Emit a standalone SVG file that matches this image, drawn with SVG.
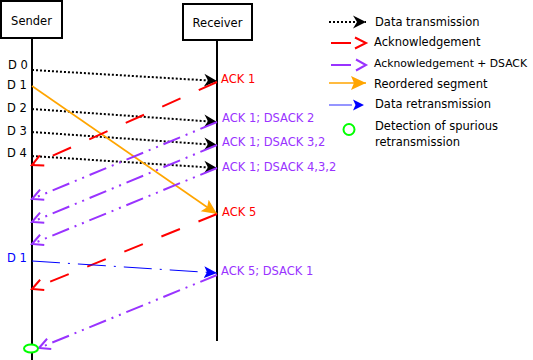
<svg xmlns="http://www.w3.org/2000/svg" width="533" height="360" viewBox="0 0 533 360">
<style>
text{font-family:"DejaVu Sans","Liberation Sans",sans-serif;font-size:11.5px;fill:#000}
.red{fill:#ff0000}
.pur{fill:#9933ff}
.blu{fill:#0000ff}
.box{fill:#fff;stroke:#000;stroke-width:2}
.life{stroke:#000;stroke-width:2}
.data{stroke:#000;stroke-width:2;stroke-dasharray:2 2;fill:none}
.ack{stroke:#ff0000;stroke-width:2;stroke-dasharray:20 20;fill:none}
.ds{stroke:#9933ff;stroke-width:2;stroke-dasharray:18 6 2 6 2 6;fill:none}
.ord{stroke:#ffa500;stroke-width:1.6;fill:none}
.ret{stroke:#0000ff;stroke-width:1;stroke-dasharray:28 8 2 8;fill:none}
.det{fill:#fff;stroke:#00ff00;stroke-width:2}
</style>
<defs>
<marker id="mBlack" markerUnits="userSpaceOnUse" markerWidth="14" markerHeight="14" viewBox="0 0 14 14" refX="13" refY="7" orient="auto"><path d="M0,0.5 L13,7 L0,13.5 L4,7 Z" fill="#000"/></marker>
<marker id="mRed" markerUnits="userSpaceOnUse" markerWidth="14" markerHeight="14" viewBox="0 0 14 14" refX="12" refY="7" orient="auto"><path d="M1,1.5 L12,7 L1,12.5" fill="none" stroke="#ff0000" stroke-width="2"/></marker>
<marker id="mPur" markerUnits="userSpaceOnUse" markerWidth="14" markerHeight="14" viewBox="0 0 14 14" refX="12" refY="7" orient="auto"><path d="M1,1.5 L12,7 L1,12.5" fill="none" stroke="#9933ff" stroke-width="2"/></marker>
<marker id="mOrange" markerUnits="userSpaceOnUse" markerWidth="16" markerHeight="16" viewBox="0 0 16 16" refX="15" refY="8" orient="auto"><path d="M0,1 L15,8 L0,15 L3,8 Z" fill="#ffa500"/></marker>
<marker id="mBlue" markerUnits="userSpaceOnUse" markerWidth="14" markerHeight="14" viewBox="0 0 14 14" refX="13" refY="7" orient="auto"><path d="M0,1 L13,7 L0,13 L3,7 Z" fill="#0000ff"/></marker>
</defs>

<g id="sender">
<line class="life" x1="32" y1="38" x2="32" y2="360"/>
<rect class="box" x="1" y="1" width="61" height="37"/>
<text x="31.5" y="25" text-anchor="middle">Sender</text>
</g>
<g id="receiver">
<line class="life" x1="217" y1="40" x2="217" y2="341"/>
<rect class="box" x="183" y="4" width="69" height="36"/>
<text x="217.5" y="27" text-anchor="middle">Receiver</text>
</g>

<g id="labels">
<text x="8" y="69">D 0</text>
<text x="7" y="89">D 1</text>
<text x="7" y="112">D 2</text>
<text x="7" y="135">D 3</text>
<text x="7" y="157">D 4</text>
<text class="blu" x="7" y="262">D 1</text>
<text class="red" x="221" y="83">ACK 1</text>
<text class="pur" x="222" y="122">ACK 1; DSACK 2</text>
<text class="pur" x="222" y="146">ACK 1; DSACK 3,2</text>
<text class="pur" x="222" y="171">ACK 1; DSACK 4,3,2</text>
<text class="red" x="222" y="216">ACK 5</text>
<text class="pur" x="221" y="275">ACK 5; DSACK 1</text>
</g>

<g id="connectors">
<path class="data" d="M32,70 L217,81" marker-end="url(#mBlack)"/>
<path class="data" d="M32,109 L217,122" marker-end="url(#mBlack)"/>
<path class="data" d="M32,132 L217,145" marker-end="url(#mBlack)"/>
<path class="data" d="M32,156 L217,168" marker-end="url(#mBlack)"/>
<path class="ord" d="M32,86 L217,214" marker-end="url(#mOrange)"/>
<path class="ack" d="M217,82 L32,165" marker-end="url(#mRed)"/>
<path class="ds" d="M217,122 L32,199" marker-end="url(#mPur)"/>
<path class="ds" d="M217,145 L32,222" marker-end="url(#mPur)"/>
<path class="ds" d="M217,168 L32,244" marker-end="url(#mPur)"/>
<path class="ack" d="M217,214 L32,289" marker-end="url(#mRed)"/>
<path class="ret" d="M32,261 L217,273" marker-end="url(#mBlue)"/>
<path class="ds" d="M217,275 L39,348" marker-end="url(#mPur)"/>
</g>

<g id="detection">
<ellipse class="det" cx="31" cy="348.5" rx="7" ry="4"/>
</g>

<g id="legend">
<path class="data" d="M329,22 L366,22" marker-end="url(#mBlack)"/>
<text x="375" y="26">Data transmission</text>
<path d="M331,43 L351,43 M355,37.5 L366,43 L355,48.5" fill="none" stroke="#ff0000" stroke-width="2"/>
<text x="374" y="46">Acknowledgement</text>
<path d="M331,65 L351,65 M356,59.5 L366,65 L356,70.5" fill="none" stroke="#9933ff" stroke-width="2"/>
<text x="374" y="67" style="font-size:10.8px">Acknowledgement + DSACK</text>
<path class="ord" d="M329,83 L366,83" stroke-width="2" marker-end="url(#mOrange)"/>
<text x="374" y="88">Reordered segment</text>
<path d="M329,105 L352,105" stroke="#0000ff" stroke-width="1.5" opacity="0.55"/>
<path d="M353,99.5 L364,105 L353,110.5 L355.5,105 Z" fill="#0000ff"/>
<text x="375" y="108">Data retransmission</text>
<circle class="det" cx="349" cy="129.5" r="5.5"/>
<text x="375" y="130">Detection of spurious</text>
<text x="375" y="146">retransmission</text>
</g>
</svg>
